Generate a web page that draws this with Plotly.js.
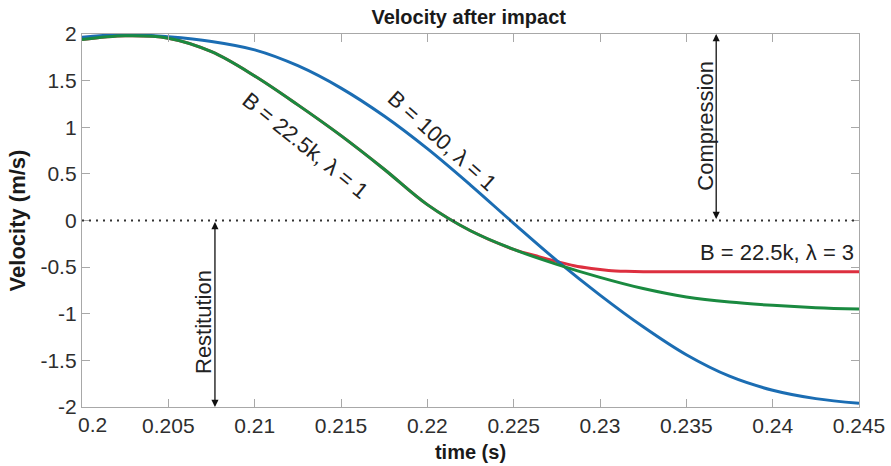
<!DOCTYPE html>
<html>
<head>
<meta charset="utf-8">
<script src="https://cdn.plot.ly/plotly-3.0.1.min.js"></script>
<style>html,body{margin:0;padding:0;background:#fff;}#chart{width:891px;height:466px;}</style>
</head>
<body>
<div id="chart"></div>
<script>
// ---- data ----
const time = [0.200,0.2025,0.205,0.2075,0.210,0.2125,0.215,0.2175,0.220,0.2225,0.225,0.2275,0.230,0.2325,0.235,0.2375,0.240,0.2425,0.245];
const velB100 = [1.965,1.995,1.97,1.92,1.83,1.66,1.42,1.12,0.77,0.38,-0.03,-0.43,-0.80,-1.14,-1.44,-1.67,-1.82,-1.91,-1.96];
const velB22k_l1 = [1.94,1.98,1.955,1.81,1.55,1.24,0.91,0.55,0.17,-0.11,-0.31,-0.47,-0.61,-0.73,-0.82,-0.875,-0.91,-0.935,-0.95];
const timeL3 = [0.200,0.2025,0.205,0.2075,0.210,0.2125,0.215,0.2175,0.220,0.2225,0.225,0.2265,0.2275,0.2285,0.2295,0.2305,0.2315,0.2325,0.235,0.240,0.245];
const velB22k_l3 = [1.94,1.98,1.955,1.81,1.55,1.24,0.91,0.55,0.17,-0.11,-0.31,-0.39,-0.44,-0.485,-0.515,-0.535,-0.545,-0.55,-0.55,-0.55,-0.55];

const xTickVals = [0.2,0.205,0.21,0.215,0.22,0.225,0.23,0.235,0.24,0.245];
const xTickText = ['0.2','0.205','0.21','0.215','0.22','0.225','0.23','0.235','0.24','0.245'];
const yTickVals = [-2,-1.5,-1,-0.5,0,0.5,1,1.5,2];
const yTickText = ['-2','-1.5','-1','-0.5','0','0.5','1','1.5','2'];

const seriesNames = ['B = 22.5k, λ = 3','B = 100, λ = 1','B = 22.5k, λ = 1'];

// ---- styling ----
const FONT = 'Liberation Sans, Arial, Helvetica, sans-serif';
const BLUE = '#1b6db3', GREEN = '#1a8a40', RED = '#dd2f3f';
const AXIS = '#a8a8a8';
const TICKFONT = {family:FONT, size:21, color:'#2e2e2e'};

const traces = [
  {x: timeL3, y: velB22k_l3, mode:'lines', line:{color:RED, width:3, shape:'spline', smoothing:1}, name:seriesNames[0]},
  {x: time, y: velB100, mode:'lines', line:{color:BLUE, width:3, shape:'spline', smoothing:1}, name:seriesNames[1]},
  {x: time, y: velB22k_l1, mode:'lines', line:{color:GREEN, width:3, shape:'spline', smoothing:1}, name:seriesNames[2]}
];

function arrow(x, y0, y1){
  return {x:x, y:y1, ax:x, ay:y0, xref:'x', yref:'y', axref:'x', ayref:'y', text:'',
    showarrow:true, arrowside:'end+start', arrowhead:2, startarrowhead:2,
    arrowsize:1.1, startarrowsize:1.1, arrowwidth:1.3, arrowcolor:'#111', standoff:0, startstandoff:0};
}
function label(text, x, y, angle, anchor){
  return {text:text, x:x, y:y, xref:'x', yref:'y', showarrow:false, textangle:angle,
    xanchor:anchor||'center', yanchor:'middle', font:{family:FONT, size:22, color:'#222'}};
}

// first x tick label is drawn nudged right (as in the reference) so it clears the "-2" label
const firstTick = {text:xTickText[0], x:xTickVals[0], xref:'x', y:0, yref:'paper',
  xanchor:'left', yanchor:'top', xshift:-6, yshift:-4, showarrow:false, font:TICKFONT};

const layout = {
  width:891, height:466,
  margin:{l:82, r:32, t:34, b:59},
  paper_bgcolor:'#fff', plot_bgcolor:'#fff',
  showlegend:false,
  font:{family:FONT, color:'#2a2a2a'},
  title:{text:'<b>Velocity after impact</b>', font:{family:FONT, size:20, color:'#1a1a1a'},
         x:0.526, xanchor:'center', y:0.963, yanchor:'middle'},
  xaxis:{range:[0.2,0.245], tickmode:'array', tickvals:xTickVals, ticktext:[''].concat(xTickText.slice(1)),
    ticks:'inside', ticklen:8, tickwidth:1, tickcolor:AXIS, showline:true, linecolor:AXIS, linewidth:1.2,
    mirror:'ticks', showgrid:false, zeroline:false, tickfont:TICKFONT,
    title:{text:'<b>time (s)</b>', font:{family:FONT, size:20, color:'#1a1a1a'}, standoff:8}},
  yaxis:{range:[-2,2], tickmode:'array', tickvals:yTickVals, ticktext:yTickText,
    ticks:'inside', ticklen:8, tickwidth:1, tickcolor:AXIS, showline:true, linecolor:AXIS, linewidth:1.2,
    mirror:'ticks', showgrid:false, zeroline:false, tickfont:TICKFONT,
    title:{text:'<b>Velocity (m/s)</b>', font:{family:FONT, size:22, color:'#1a1a1a'}, standoff:8}},
  shapes:[{type:'line', xref:'paper', yref:'y', x0:0, x1:1, y0:0, y1:0,
    line:{color:'#333', width:2, dash:'2px,5px'}}],
  annotations:[
    firstTick,
    arrow(0.23673, 0, 2),
    arrow(0.2077, 0, -2),
    label('Compression', 0.2361, 1.02, -90),
    label('Restitution', 0.2070, -1.09, -90),
    label(seriesNames[0], 0.24027, -0.34, 0),
    label(seriesNames[1], 0.22086, 0.86, 42),
    label(seriesNames[2], 0.21292, 0.80, 39)
  ]
};

Plotly.newPlot('chart', traces, layout, {displayModeBar:false, staticPlot:true});
</script>
</body>
</html>
